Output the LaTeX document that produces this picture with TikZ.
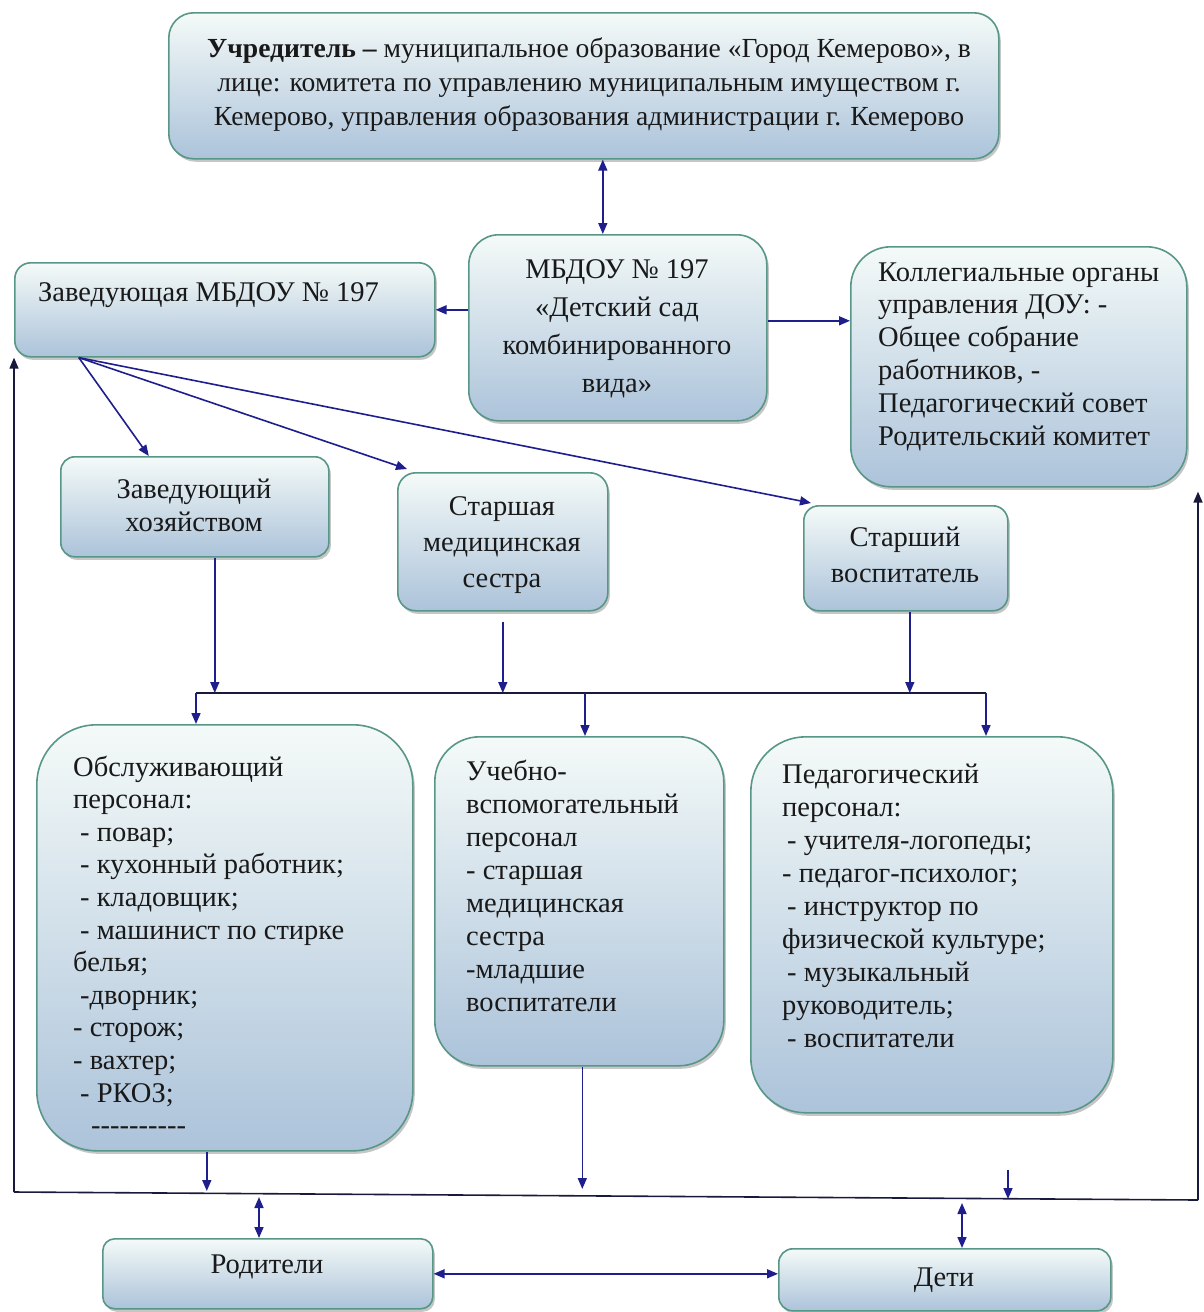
\documentclass[tikz,border=0pt]{standalone}
\usepackage{fontspec}
\setmainfont{Liberation Serif}
\usetikzlibrary{arrows.meta,shadows}
\definecolor{bord}{RGB}{88,150,135}
\definecolor{ftop}{RGB}{244,250,248}
\definecolor{fbot}{RGB}{172,195,218}
\definecolor{arrc}{RGB}{30,30,140}
\definecolor{busc}{RGB}{25,25,60}
\definecolor{txtc}{RGB}{25,25,25}
\newcommand{\myfr}{\rule{0pt}{0.75em}}
\tikzset{
  box/.style={draw=bord, line width=1.6pt, top color=ftop, bottom color=fbot,
    drop shadow={shadow xshift=2pt, shadow yshift=-3pt, fill=black!50, opacity=0.45},
    anchor=north west, inner sep=0pt},
  txt/.style={inner sep=0pt, text=txtc, font=\fontsize{28.5}{33}\selectfont},
  conn/.style={draw=arrc, line width=1.6pt, >={Triangle[length=11pt,width=9pt]}},
  bus/.style={draw=busc, line width=1.6pt}
}
\begin{document}
\begin{tikzpicture}[x=1pt,y=-1pt]
\useasboundingbox (0,0) rectangle (1204,1312);
% boxes
\node[box, rounded corners=25pt, minimum width=830pt, minimum height=146pt] (top) at (168,12) {};
\node[box, rounded corners=16pt, minimum width=420pt, minimum height=94pt] (zav) at (14,262) {};
\node[box, rounded corners=30pt, minimum width=298pt, minimum height=186pt] (mbdou) at (468,234) {};
\node[box, rounded corners=40pt, minimum width=336pt, minimum height=240pt] (koll) at (850,246) {};
\node[box, rounded corners=14pt, minimum width=268pt, minimum height=100pt] (hoz) at (60,456) {};
\node[box, rounded corners=18pt, minimum width=210pt, minimum height=138pt] (med) at (397,472) {};
\node[box, rounded corners=15pt, minimum width=204pt, minimum height=105pt] (vosp) at (803,505) {};
\node[box, rounded corners=60pt, minimum width=376pt, minimum height=426pt] (obsl) at (36,724) {};
\node[box, rounded corners=45pt, minimum width=289pt, minimum height=329pt] (ucheb) at (434,736) {};
\node[box, rounded corners=55pt, minimum width=362pt, minimum height=376pt] (ped) at (750,736) {};
\node[box, rounded corners=12pt, minimum width=330pt, minimum height=70pt] (rod) at (102,1238) {};
\node[box, rounded corners=14pt, minimum width=332pt, minimum height=62pt] (deti) at (778,1248) {};
% texts
\node[txt, font=\fontsize{27.6}{34}\selectfont, anchor=north, align=center] (t-top) at (589,36.3)
  {\myfr\textbf{Учредитель –} муниципальное образование «Город Кемерово», в\\
   лице: комитета по управлению муниципальным имуществом г.\\
   Кемерово, управления образования администрации г. Кемерово};
\node[txt, anchor=north west, align=left] (t-zav) at (38,279.6) {\myfr Заведующая МБДОУ № 197};
\node[txt, font=\fontsize{28.5}{38}\selectfont, anchor=north, align=center] (t-mbdou) at (617,256.6)
  {\myfr МБДОУ № 197\\«Детский сад\\комбинированного\\вида»};
\node[txt, font=\fontsize{28.5}{32.8}\selectfont, anchor=north west, align=left] (t-koll) at (878,259.6)
  {\myfr Коллегиальные органы\\управления ДОУ: -\\Общее собрание\\работников, -\\Педагогический совет\\Родительский комитет};
\node[txt, anchor=north, align=center] (t-hoz) at (194,476.6) {\myfr Заведующий\\хозяйством};
\node[txt, font=\fontsize{28.5}{36}\selectfont, anchor=north, align=center] (t-med) at (502,493.6) {\myfr Старшая\\медицинская\\сестра};
\node[txt, font=\fontsize{28.5}{36}\selectfont, anchor=north, align=center] (t-vosp) at (905,524.6) {\myfr Старший\\воспитатель};
\node[txt, font=\fontsize{28.5}{32.6}\selectfont, anchor=north west, align=left] (t-obsl) at (73,754.6)
  {\myfr Обслуживающий\\персонал:\\\hspace*{7pt}- повар;\\\hspace*{7pt}- кухонный работник;\\\hspace*{7pt}- кладовщик;\\
   \hspace*{7pt}- машинист по стирке\\белья;\\\hspace*{7pt}-дворник;\\- сторож;\\- вахтер;\\\hspace*{7pt}- РКОЗ;\\
   \hspace*{18pt}-{}-{}-{}-{}-{}-{}-{}-{}-{}-};
\node[txt, anchor=north west, align=left] (t-ucheb) at (466,758.6)
  {\myfr Учебно-\\вспомогательный\\персонал\\- старшая\\медицинская\\сестра\\-младшие\\воспитатели};
\node[txt, anchor=north west, align=left] (t-ped) at (782,761.6)
  {\myfr Педагогический\\персонал:\\\hspace*{5pt}- учителя-логопеды;\\- педагог-психолог;\\\hspace*{5pt}- инструктор по\\физической культуре;\\
   \hspace*{5pt}- музыкальный\\руководитель;\\\hspace*{5pt}- воспитатели};
\node[txt, anchor=north, align=center] (t-rod) at (267,1251.6) {\myfr Родители};
\node[txt, anchor=north, align=center] (t-deti) at (944,1264.6) {\myfr Дети};
% helper coordinates
\coordinate (busL) at (196,693);
\coordinate (busM) at (585,693);
\coordinate (busR) at (986,693);
\coordinate (bl) at (14,1192);
\coordinate (br) at (1198,1200);
\coordinate (sa) at (1008,1170);
\coordinate (sb) at (1008,1199);
\coordinate (pa) at (259,1197);
\coordinate (pb) at (962,1203);
% connectors
\draw[conn,<->] ([xshift=19pt]top.south) -- ([xshift=19pt]top.south |- mbdou.north);
\draw[conn,->] (mbdou.west |- zav.east) -- (zav.east);
\draw[conn,->] ([yshift=7pt]mbdou.east) -- ([yshift=7pt]mbdou.east -| koll.west);
\draw[conn,->] ([xshift=-146pt]zav.south) -- ([xshift=-46pt]hoz.north);
\draw[conn,->] ([xshift=-146pt]zav.south) -- ([xshift=10pt,yshift=3pt]med.north west);
\draw[conn,->] ([xshift=-146pt]zav.south) -- ([xshift=8pt,yshift=2pt]vosp.north west);
\draw[conn,->] ([xshift=20pt]hoz.south) -- ([xshift=20pt]hoz.south |- busL);
\draw[conn,->] ([yshift=-10pt]med.south) -- (med.south |- busL);
\draw[conn,->] ([xshift=4pt]vosp.south) -- ([xshift=4pt]vosp.south |- busL);
\draw[bus] (busL) -- (busR);
\draw[conn,->] (busL) -- (busL |- obsl.north);
\draw[conn,->] (busM) -- (busM |- ucheb.north);
\draw[conn,->] (busR) -- (busR |- ped.north);
\draw[bus] (bl) -- (br);
\draw[conn,->,draw=busc] (bl) -- (bl |- zav.south);
\draw[conn,->,draw=busc] (br) -- ([yshift=-4pt]br |- koll.south);
\draw[conn,->] ([xshift=-18pt]obsl.south) -- ([xshift=-18pt,yshift=1pt]obsl.south |- bl);
\draw[conn,->] ([xshift=3pt]ucheb.south) -- ([xshift=3pt,yshift=3pt]ucheb.south |- bl);
\draw[conn,->] (sa) -- (sb);
\draw[conn,<->] (pa) -- (pa |- rod.north);
\draw[conn,<->] (pb) -- (pb |- deti.north);
\draw[conn,<->] (rod.east) -- (rod.east -| deti.west);
\end{tikzpicture}
\end{document}
